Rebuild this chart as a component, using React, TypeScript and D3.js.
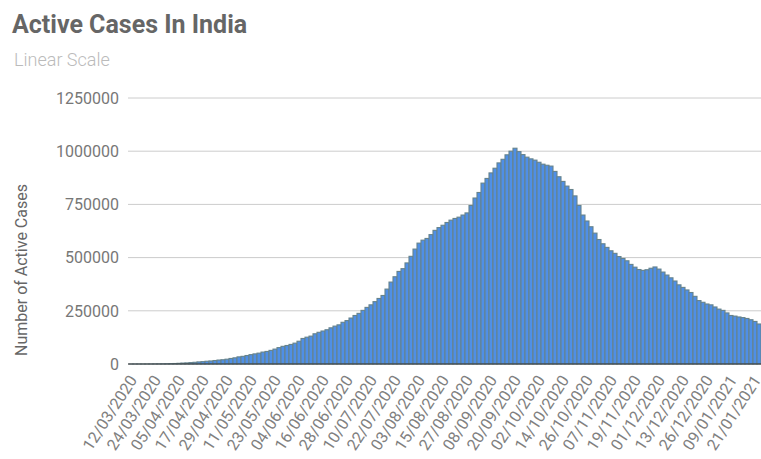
import * as d3 from "d3";
import { useEffect, useRef } from "react";

const chartTitle = "Active Cases In India";
const chartSubtitle = "Linear Scale";
const yAxisTitle = "Number of Active Cases";

// one bar every second day (a few longer gaps around new year)
const dates2020 = (
  "12/03 14/03 16/03 18/03 20/03 22/03 24/03 26/03 28/03 30/03 " +
  "01/04 03/04 05/04 07/04 09/04 11/04 13/04 15/04 17/04 19/04 21/04 23/04 25/04 27/04 29/04 " +
  "01/05 03/05 05/05 07/05 09/05 11/05 13/05 15/05 17/05 19/05 21/05 23/05 25/05 27/05 29/05 31/05 " +
  "02/06 04/06 06/06 08/06 10/06 12/06 14/06 16/06 18/06 20/06 22/06 24/06 26/06 28/06 30/06 " +
  "02/07 04/07 06/07 08/07 10/07 12/07 14/07 16/07 18/07 20/07 22/07 24/07 26/07 28/07 30/07 " +
  "01/08 03/08 05/08 07/08 09/08 11/08 13/08 15/08 17/08 19/08 21/08 23/08 25/08 27/08 29/08 31/08 " +
  "02/09 04/09 06/09 08/09 10/09 12/09 14/09 16/09 18/09 20/09 22/09 24/09 26/09 28/09 30/09 " +
  "02/10 04/10 06/10 08/10 10/10 12/10 14/10 16/10 18/10 20/10 22/10 24/10 26/10 28/10 30/10 " +
  "01/11 03/11 05/11 07/11 09/11 11/11 13/11 15/11 17/11 19/11 21/11 23/11 25/11 27/11 29/11 " +
  "01/12 03/12 05/12 07/12 09/12 11/12 13/12 15/12 17/12 19/12 21/12 24/12 26/12 28/12 30/12"
)
  .split(" ")
  .map((d) => `${d}/2020`);

const dates2021 = "02/01 04/01 06/01 09/01 11/01 13/01 15/01 17/01 19/01 21/01 23/01"
  .split(" ")
  .map((d) => `${d}/2021`);

const dates = [...dates2020, ...dates2021];

const activeCases = [
  70, 90, 110, 140, 200, 330, 480, 640, 850, 1100,
  1700, 2300, 3200, 4300, 5100, 6600, 8000, 9800, 11000, 12900,
  14200, 16300, 18600, 20000, 22600, 26000, 29000, 33500, 36000, 39900,
  44000, 47500, 51000, 56000, 59000, 64000, 70000, 77000, 83000, 87000,
  92000, 98000, 107000, 120000, 126000, 131000, 142000, 149000, 155000, 161000,
  170000, 178000, 184000, 196000, 204000, 216000, 228000, 238000, 252000, 266000,
  278000, 293000, 308000, 322000, 352000, 385000, 410000, 435000, 448000, 475000,
  506000, 540000, 568000, 582000, 590000, 608000, 628000, 641000, 652000, 665000,
  676000, 684000, 690000, 700000, 710000, 745000, 780000, 806000, 850000, 872000,
  898000, 920000, 945000, 962000, 983000, 1000000, 1014000, 998000, 984000, 972000,
  964000, 958000, 948000, 939000, 934000, 930000, 905000, 880000, 858000, 836000,
  820000, 790000, 745000, 700000, 672000, 645000, 615000, 585000, 565000, 548000,
  532000, 520000, 505000, 496000, 485000, 468000, 455000, 444000, 440000, 443000,
  450000, 456000, 446000, 432000, 418000, 405000, 390000, 372000, 360000, 348000,
  336000, 318000, 298000, 290000, 282000, 278000, 268000, 258000, 252000, 240000,
  228000, 225000, 221000, 218000, 214000, 208000, 200000, 188000,
];

const yTicks = [0, 250000, 500000, 750000, 1000000, 1250000];
const labelEvery = 6;

const width = 761;
const height = 459;
const plotLeft = 129;
const plotRight = 761;
const plotTop = 98;
const plotBottom = 364;

export default function App() {
  const ref = useRef<SVGSVGElement>(null);

  useEffect(() => {
    const svg = d3.select(ref.current);
    svg.selectAll("*").remove();

    const x = d3.scaleBand<string>().domain(dates).range([plotLeft, plotRight]).padding(0);
    const y = d3.scaleLinear().domain([0, 1250000]).range([plotBottom, plotTop]);
    const font = "Roboto, 'Noto Sans', sans-serif";

    svg
      .append("text")
      .attr("x", 12)
      .attr("y", 33)
      .attr("font-family", font)
      .attr("font-weight", 700)
      .attr("font-size", 25)
      .attr("fill", "#666")
      .text(chartTitle);

    svg
      .append("text")
      .attr("x", 14)
      .attr("y", 66)
      .attr("font-family", font)
      .attr("font-weight", 300)
      .attr("font-size", 18)
      .attr("fill", "#bbb")
      .text(chartSubtitle);

    // gridlines
    svg
      .append("g")
      .selectAll("line")
      .data(yTicks.filter((t) => t > 0))
      .enter()
      .append("line")
      .attr("x1", plotLeft - 1)
      .attr("x2", plotRight)
      .attr("y1", (d) => y(d))
      .attr("y2", (d) => y(d))
      .attr("stroke", "#ccc")
      .attr("stroke-width", 1);

    svg
      .append("g")
      .selectAll("text")
      .data(yTicks)
      .enter()
      .append("text")
      .attr("x", 119)
      .attr("y", (d) => y(d))
      .attr("dy", "0.36em")
      .attr("text-anchor", "end")
      .attr("font-family", font)
      .attr("font-size", 16)
      .attr("fill", "#777")
      .text((d) => String(d));

    svg
      .append("text")
      .attr("transform", `translate(27, 270) rotate(-90)`)
      .attr("text-anchor", "middle")
      .attr("font-family", font)
      .attr("font-size", 16)
      .attr("fill", "#666")
      .text(yAxisTitle);

    // bars
    svg
      .append("g")
      .selectAll("rect")
      .data(dates)
      .enter()
      .append("rect")
      .attr("x", (d) => x(d) as number)
      .attr("width", x.bandwidth())
      .attr("y", (_, i) => y(activeCases[i]))
      .attr("height", (_, i) => plotBottom - y(activeCases[i]))
      .attr("fill", "#4f8fe6")
      .attr("stroke", "#66838c")
      .attr("stroke-width", 1.1);

    // baseline
    svg
      .append("line")
      .attr("x1", plotLeft - 1)
      .attr("x2", plotRight)
      .attr("y1", plotBottom)
      .attr("y2", plotBottom)
      .attr("stroke", "#333")
      .attr("stroke-width", 1);

    // x labels
    svg
      .append("g")
      .selectAll("text")
      .data(dates.filter((_, i) => i % labelEvery === 0))
      .enter()
      .append("text")
      .attr(
        "transform",
        (d) => `translate(${(x(d) as number) + x.bandwidth() / 2 + 2}, 377) rotate(-57)`
      )
      .attr("dy", "0.35em")
      .attr("text-anchor", "end")
      .attr("font-family", font)
      .attr("font-size", 16)
      .attr("fill", "#808080")
      .text((d) => d);
  }, []);

  return (
    <svg
      ref={ref}
      width={width}
      height={height}
      style={{ position: "absolute", left: 0, top: 0, background: "#fff" }}
    />
  );
}
